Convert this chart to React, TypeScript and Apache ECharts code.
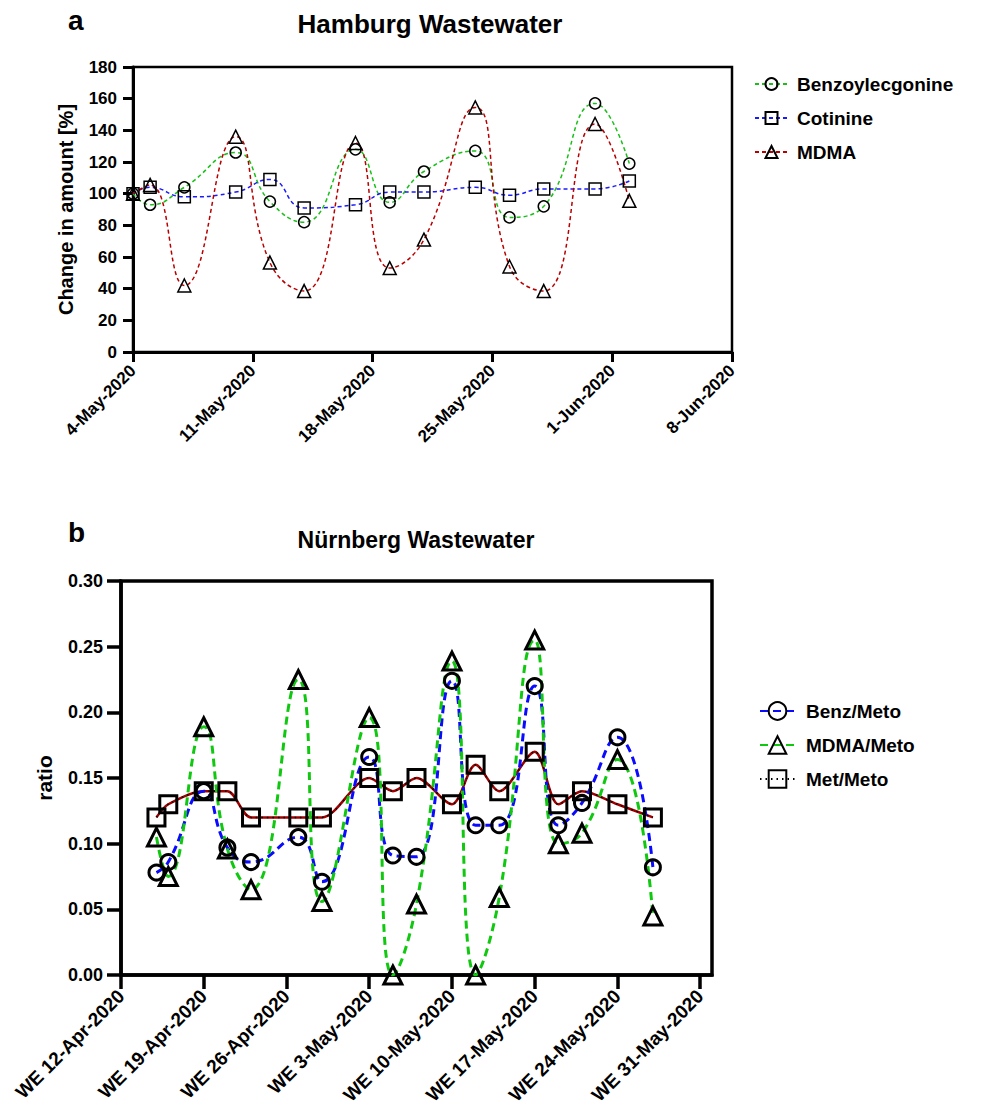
import React, { useEffect, useRef } from "react";
import * as echarts from "echarts";

// ---------- Panel a: Hamburg ----------
const hamburgBase = "2020-05-04";
const hamburgMax = "2020-06-08";
const hamburgDates = [
  "2020-05-04", "2020-05-05", "2020-05-07", "2020-05-10", "2020-05-12", "2020-05-14", "2020-05-17",
  "2020-05-19", "2020-05-21", "2020-05-24", "2020-05-26", "2020-05-28", "2020-05-31", "2020-06-02",
];
const benzoylecgonine = [100, 93, 104, 126, 95, 82, 128, 94.5, 114, 127, 85, 92, 157, 119];
const cotinine = [100, 104, 98, 101, 109, 91, 93, 101, 101, 104, 99, 103, 103, 108];
const mdma = [100, 105.5, 42, 136, 56.5, 38.5, 132, 53, 71, 154.5, 54, 38.5, 144, 95.5];
const hamburgTickLabels = ["4-May-2020", "11-May-2020", "18-May-2020", "25-May-2020", "1-Jun-2020", "8-Jun-2020"];

// ---------- Panel b: Nürnberg ----------
const nbgBase = "2020-04-12";
const nbgMax = "2020-06-01";
const nbgDates = [
  "2020-04-15", "2020-04-16", "2020-04-19", "2020-04-21", "2020-04-23", "2020-04-27", "2020-04-29",
  "2020-05-03", "2020-05-05", "2020-05-07", "2020-05-10", "2020-05-12", "2020-05-14", "2020-05-17",
  "2020-05-19", "2020-05-21", "2020-05-24", "2020-05-27",
];
const benzMeto = [0.078, 0.086, 0.14, 0.097, 0.086, 0.105, 0.071, 0.166, 0.091, 0.09, 0.224, 0.114, 0.114, 0.22, 0.114, 0.131, 0.181, 0.082];
const mdmaMeto = [0.105, 0.075, 0.189, 0.096, 0.065, 0.225, 0.056, 0.196, 0.0, 0.054, 0.239, 0.0, 0.059, 0.255, 0.1, 0.108, 0.164, 0.045];
const metMeto = [0.12, 0.13, 0.14, 0.14, 0.12, 0.12, 0.12, 0.15, 0.14, 0.15, 0.13, 0.16, 0.14, 0.17, 0.13, 0.14, 0.13, 0.12];
const nbgTickLabels = [
  "WE 12-Apr-2020", "WE 19-Apr-2020", "WE 26-Apr-2020", "WE 3-May-2020",
  "WE 10-May-2020", "WE 17-May-2020", "WE 24-May-2020", "WE 31-May-2020",
];

const DAY = 86400000;
const dayOffset = (d: string, base: string) => Math.round((Date.parse(d) - Date.parse(base)) / DAY);
const pairs = (dates: string[], vals: number[], base: string) => dates.map((d, i) => [dayOffset(d, base), vals[i]]);

const FONT = "'Liberation Sans', Arial, Helvetica, sans-serif";
const BLACK = "#000";

export default function App() {
  const ref = useRef<HTMLDivElement>(null);

  useEffect(() => {
    document.body.style.margin = "0";
    if (!ref.current) return;
    const chart = echarts.init(ref.current, undefined, { renderer: "svg" });

    const hollow = (bw: number) => ({ color: "rgba(255,255,255,0)", borderColor: BLACK, borderWidth: bw });
    const nbgTickValues = nbgTickLabels.map((_, i) => i * 7);

    const option: any = {
      animation: false,
      textStyle: { fontFamily: FONT },
      grid: [
        { left: 133, top: 67, width: 599, height: 285, show: true, borderColor: BLACK, borderWidth: 2.5 },
        { left: 121, top: 581, width: 591, height: 394, show: true, borderColor: BLACK, borderWidth: 3.5 },
      ],
      xAxis: [
        {
          type: "value", gridIndex: 0, min: 0, max: dayOffset(hamburgMax, hamburgBase), interval: 7,
          axisLine: { show: true, onZero: false, lineStyle: { color: BLACK, width: 3 } },
          axisTick: { show: true, length: 10, lineStyle: { color: BLACK, width: 3 } },
          axisLabel: {
            rotate: 45, margin: 16, fontSize: 17, fontWeight: "bold", color: BLACK, fontFamily: FONT,
            formatter: (v: number) => (v % 7 === 0 ? hamburgTickLabels[v / 7] ?? "" : ""),
          },
          splitLine: { show: false },
        },
        {
          type: "value", gridIndex: 1, min: 0, max: dayOffset(nbgMax, nbgBase), interval: 7,
          axisLine: { show: true, onZero: false, lineStyle: { color: BLACK, width: 3.5 } },
          axisTick: { show: true, length: 14, customValues: nbgTickValues, lineStyle: { color: BLACK, width: 3.5 } },
          axisLabel: {
            rotate: 45, margin: 18, fontSize: 19, fontWeight: "bold", color: BLACK, fontFamily: FONT,
            customValues: nbgTickValues,
            formatter: (v: number) => (v % 7 === 0 ? nbgTickLabels[v / 7] ?? "" : ""),
          },
          splitLine: { show: false },
        },
      ],
      yAxis: [
        {
          type: "value", gridIndex: 0, min: 0, max: 180, interval: 20,
          name: "Change in amount [%]", nameLocation: "middle", nameGap: 57,
          nameTextStyle: { fontSize: 20, fontWeight: "bold", color: BLACK, fontFamily: FONT },
          axisLine: { show: true, lineStyle: { color: BLACK, width: 3 } },
          axisTick: { show: true, length: 10, lineStyle: { color: BLACK, width: 3 } },
          axisLabel: { fontSize: 17, fontWeight: "bold", color: BLACK, margin: 16, fontFamily: FONT },
          splitLine: { show: false },
        },
        {
          type: "value", gridIndex: 1, min: 0, max: 0.3, interval: 0.05,
          name: "ratio", nameLocation: "middle", nameGap: 66,
          nameTextStyle: { fontSize: 21, fontWeight: "bold", color: BLACK, fontFamily: FONT },
          axisLine: { show: true, lineStyle: { color: BLACK, width: 3.5 } },
          axisTick: { show: true, length: 14, lineStyle: { color: BLACK, width: 3.5 } },
          axisLabel: {
            fontSize: 18, fontWeight: "bold", color: BLACK, margin: 18, fontFamily: FONT,
            formatter: (v: number) => v.toFixed(2),
          },
          splitLine: { show: false },
        },
      ],
      legend: [
        {
          orient: "vertical", left: 749, top: 69, itemWidth: 33, itemHeight: 15, itemGap: 14,
          selectedMode: false,
          data: ["Benzoylecgonine", "Cotinine", "MDMA"],
          textStyle: { fontSize: 19, fontWeight: "bold", color: BLACK, fontFamily: FONT, lineHeight: 20, padding: [0, 0, 0, 4] },
        },
        {
          orient: "vertical", left: 754, top: 695, itemWidth: 35, itemHeight: 22, itemGap: 12,
          selectedMode: false,
          data: ["Benz/Meto", "MDMA/Meto", "Met/Meto"],
          textStyle: { fontSize: 19, fontWeight: "bold", color: BLACK, fontFamily: FONT, lineHeight: 22, padding: [0, 0, 0, 6] },
        },
      ],
      graphic: [
        { type: "text", left: 68, top: 6, style: { text: "a", font: `bold 28px ${FONT}`, fill: BLACK } },
        { type: "text", x: 430, y: 24, style: { text: "Hamburg Wastewater", font: `bold 26px ${FONT}`, fill: BLACK, textAlign: "center", textVerticalAlign: "middle" } },
        { type: "text", left: 68, top: 518, style: { text: "b", font: `bold 28px ${FONT}`, fill: BLACK } },
        { type: "text", x: 416, y: 540, style: { text: "Nürnberg Wastewater", font: `bold 23px ${FONT}`, fill: BLACK, textAlign: "center", textVerticalAlign: "middle" } },
      ],
      series: [
        {
          name: "Benzoylecgonine", type: "line", xAxisIndex: 0, yAxisIndex: 0, smooth: 0.5,
          data: pairs(hamburgDates, benzoylecgonine, hamburgBase),
          symbol: "circle", symbolSize: 11,
          lineStyle: { color: "#18c018", width: 1.5, type: [4, 3] },
          itemStyle: hollow(1.5),
        },
        {
          name: "Cotinine", type: "line", xAxisIndex: 0, yAxisIndex: 0, smooth: 0.5,
          data: pairs(hamburgDates, cotinine, hamburgBase),
          symbol: "rect", symbolSize: 12,
          lineStyle: { color: "#1a1aff", width: 1.5, type: [4, 3] },
          itemStyle: hollow(1.5),
        },
        {
          name: "MDMA", type: "line", xAxisIndex: 0, yAxisIndex: 0, smooth: 0.5,
          data: pairs(hamburgDates, mdma, hamburgBase),
          symbol: "triangle", symbolSize: 13,
          lineStyle: { color: "#b80000", width: 1.5, type: [4, 3] },
          itemStyle: hollow(1.5),
        },
        {
          name: "Met/Meto trend", type: "line", xAxisIndex: 1, yAxisIndex: 1, smooth: 0.3,
          data: pairs(nbgDates, metMeto, nbgBase),
          symbol: "none",
          lineStyle: { color: "#a00000", width: 2.5 },
          itemStyle: { color: "#a00000" },
        },
        {
          name: "Met/Meto", type: "line", xAxisIndex: 1, yAxisIndex: 1, smooth: 0.3,
          data: pairs(nbgDates, metMeto, nbgBase),
          symbol: "rect", symbolSize: 17,
          lineStyle: { color: BLACK, width: 1.5, type: [1.5, 4] },
          itemStyle: hollow(3),
        },
        {
          name: "Benz/Meto", type: "line", xAxisIndex: 1, yAxisIndex: 1, smooth: 0.5,
          data: pairs(nbgDates, benzMeto, nbgBase),
          symbol: "circle", symbolSize: 15,
          lineStyle: { color: "#0a0aff", width: 3, type: [8, 5] },
          itemStyle: hollow(3),
        },
        {
          name: "MDMA/Meto", type: "line", xAxisIndex: 1, yAxisIndex: 1, smooth: 0.5,
          data: pairs(nbgDates, mdmaMeto, nbgBase),
          symbol: "triangle", symbolSize: 18,
          lineStyle: { color: "#10c810", width: 3, type: [8, 5] },
          itemStyle: hollow(3),
        },
      ],
    };

    chart.setOption(option);
    return () => chart.dispose();
  }, []);

  return <div ref={ref} style={{ width: 984, height: 1113 }} />;
}
